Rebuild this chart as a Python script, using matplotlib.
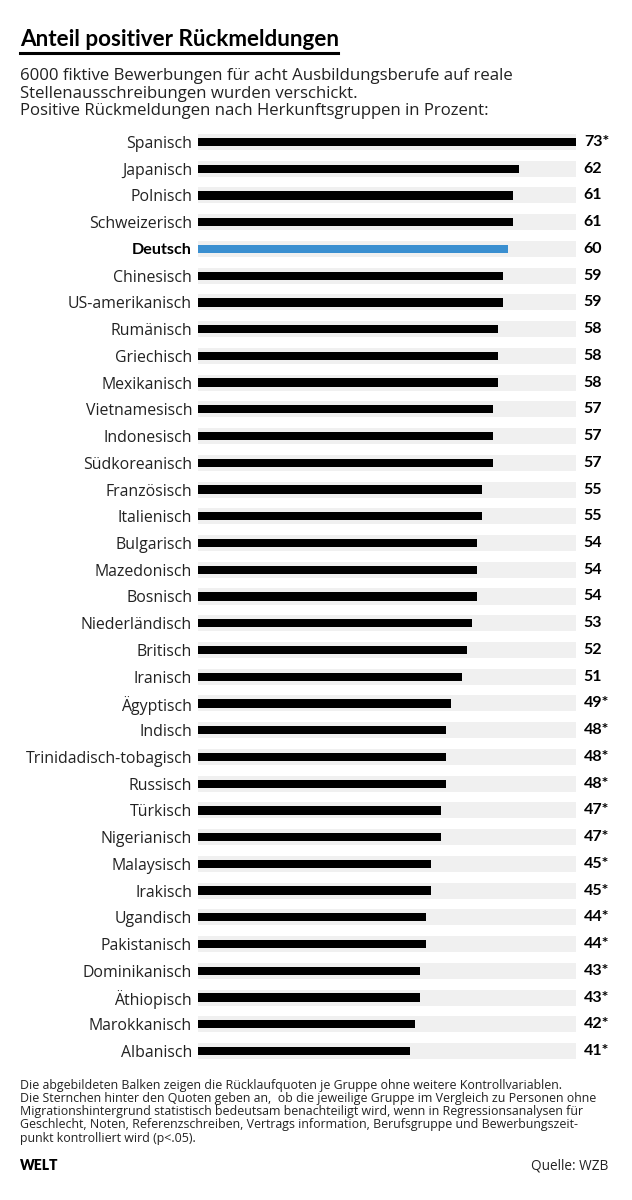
import matplotlib
matplotlib.use("Agg")
import matplotlib.pyplot as plt
from matplotlib.lines import Line2D

plt.rcParams['font.family'] = ['Open Sans', 'DejaVu Sans']
BODY = ['Open Sans', 'DejaVu Sans']
BOLD = ['Lato', 'DejaVu Sans']

categories = ["Spanisch", "Japanisch", "Polnisch", "Schweizerisch", "Deutsch",
              "Chinesisch", "US-amerikanisch", "Rumänisch", "Griechisch", "Mexikanisch",
              "Vietnamesisch", "Indonesisch", "Südkoreanisch", "Französisch", "Italienisch",
              "Bulgarisch", "Mazedonisch", "Bosnisch", "Niederländisch", "Britisch",
              "Iranisch", "Ägyptisch", "Indisch", "Trinidadisch-tobagisch", "Russisch",
              "Türkisch", "Nigerianisch", "Malaysisch", "Irakisch", "Ugandisch",
              "Pakistanisch", "Dominikanisch", "Äthiopisch", "Marokkanisch", "Albanisch"]
values = [73, 62, 61, 61, 60, 59, 59, 58, 58, 58, 57, 57, 57, 55, 55, 54, 54, 54,
          53, 52, 51, 49, 48, 48, 48, 47, 47, 45, 45, 44, 44, 43, 43, 42, 41]
significant = [True] + [False] * 20 + [True] * 14
highlight = "Deutsch"

W, H = 632, 1200
fig = plt.figure(figsize=(W / 100, H / 100), dpi=100)
fig.patch.set_facecolor("white")

def px(x, y):
    return x / W, 1 - y / H

# bar axes
n = len(categories)
row = (1051 - 142) / (n - 1)
top = 142 - row / 2
bottom = 1051 + row / 2
x0, x1 = 198, 575.5
ax = fig.add_axes([x0 / W, 1 - bottom / H, (x1 - x0) / W, (bottom - top) / H])
vmax = max(values)
ypos = list(range(n))
ax.barh(ypos, [vmax] * n, height=0.6, color="#f0f0f0", zorder=1)
colors = ["#3a8fd0" if c == highlight else "black" for c in categories]
ax.barh(ypos, values, height=0.31, color=colors, zorder=2)
ax.set_xlim(0, vmax)
ax.set_ylim(n - 0.5, -0.5)
ax.set_yticks(ypos)
ax.set_yticklabels(categories)
for lab, c in zip(ax.get_yticklabels(), categories):
    lab.set_fontsize(11.4)
    lab.set_family(BODY)
    lab.set_color("#222222")
    if c == highlight:
        lab.set_fontweight("bold")
        lab.set_family(BOLD)
        lab.set_fontsize(11.6)
        lab.set_color("black")
ax.tick_params(axis="y", length=0, pad=4.3)
ax.set_xticks([])
for s in ax.spines.values():
    s.set_visible(False)
ax.patch.set_alpha(0)

for i, (v, sig) in enumerate(zip(values, significant)):
    ax.annotate(f"{v}*" if sig else f"{v}", xy=(vmax, i), xytext=(6, 0),
                textcoords="offset points", va="center", ha="left",
                fontsize=11.5, fontweight="bold", family=BOLD, color="black")

# title
fig.text(*px(20, 39), "Anteil positiver Rückmeldungen", fontsize=16.2,
         fontweight="bold", family=BOLD, va="center", ha="left", color="black")
fig.add_artist(Line2D([20 / W, 338 / W], [1 - 53 / H, 1 - 53 / H],
                      color="black", lw=2.2, transform=fig.transFigure))
sub = ["6000 fiktive Bewerbungen für acht Ausbildungsberufe auf reale",
       "Stellenausschreibungen wurden verschickt.",
       "Positive Rückmeldungen nach Herkunftsgruppen in Prozent:"]
for k, s in enumerate(sub):
    fig.text(*px(20, 76 + k * 17.5), s, fontsize=12.1, family=BODY, va="center",
             ha="left", color="#222222")

foot = ["Die abgebildeten Balken zeigen die Rücklaufquoten je Gruppe ohne weitere Kontrollvariablen.",
        "Die Sternchen hinter den Quoten geben an,  ob die jeweilige Gruppe im Vergleich zu Personen ohne",
        "Migrationshintergrund statistisch bedeutsam benachteiligt wird, wenn in Regressionsanalysen für",
        "Geschlecht, Noten, Referenzschreiben, Vertrags information, Berufsgruppe und Bewerbungszeit-",
        "punkt kontrolliert wird (p<.05)."]
for k, s in enumerate(foot):
    fig.text(*px(20, 1085 + k * 13.3), s, fontsize=8.9, family=BODY, va="center",
             ha="left", color="#222222")

fig.text(*px(20, 1166), "WELT", fontsize=10, fontweight="heavy", family=BOLD,
         va="center", ha="left", color="black")
fig.text(*px(608, 1166), "Quelle: WZB", fontsize=9.8, family=BODY, va="center",
         ha="right", color="#222222")

fig.savefig("out.png", dpi=100, facecolor="white")
